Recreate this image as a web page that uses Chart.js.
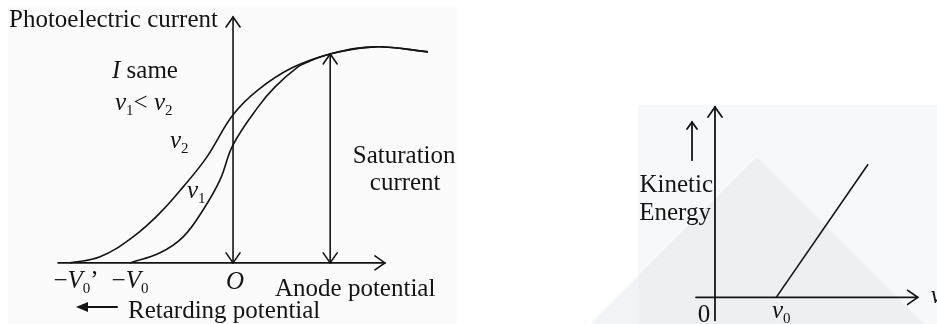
<!DOCTYPE html>
<html>
<head>
<meta charset="utf-8">
<title>Photoelectric effect</title>
<script src="https://cdn.jsdelivr.net/npm/chart.js@4.4.1/dist/chart.umd.min.js"></script>
<style>
  body { margin: 0; background: #fff; }
  .wrap { position: relative; width: 937px; height: 324px; overflow: hidden; }
  canvas { position: absolute; top: 0; }
  #currentChart { left: 0; }
  #energyChart { left: 470px; }
</style>
</head>
<body>
<div class="wrap">
  <canvas id="currentChart" width="470" height="324"></canvas>
  <canvas id="energyChart" width="467" height="324"></canvas>
</div>
<script>
// current vs anode potential, two frequencies at the same intensity
const v2Potential = [-5.0, -4.08, -3.07, -2.24, -1.53, -0.80, 0, 0.77, 1.81, 2.98, 4.36, 5.98];
const v2Current   = [0, 0.029, 0.124, 0.238, 0.362, 0.505, 0.705, 0.824, 0.929, 0.995, 1.029, 1.005];
const v1Potential = [-3.16, -2.24, -1.53, -0.92, -0.40, 0, 0.77, 1.29, 1.99, 2.30, 2.98, 4.36, 5.98];
const v1Current   = [0, 0.048, 0.124, 0.252, 0.395, 0.562, 0.743, 0.838, 0.933, 0.957, 0.995, 1.029, 1.005];

const stopV2 = -5.0;   // -V0'
const stopV1 = -3.16;  // -V0
const satPotential = 2.98;
const satCurrent = 0.995;

// kinetic energy vs frequency
const frequency = [2, 5];
const kineticEnergy = [0, 3];
const thresholdFreq = 2;

const INK = '#141414';
const SERIF = '"Liberation Serif", "Times New Roman", serif';

function toPoints(xs, ys) {
  return xs.map((x, i) => ({ x: x, y: ys[i] }));
}

function fontFor(p) {
  return (p.it ? 'italic ' : '') + (p.sub ? 15 : 25) + 'px ' + SERIF;
}

// draws a run of text pieces (italic / subscript) starting at x
function drawRich(ctx, x, y, parts, align) {
  let w = 0;
  parts.forEach(p => { ctx.font = fontFor(p); p.w = ctx.measureText(p.t).width; w += p.w; });
  let cx = align === 'center' ? x - w / 2 : (align === 'right' ? x - w : x);
  ctx.textAlign = 'left';
  ctx.textBaseline = 'alphabetic';
  ctx.fillStyle = INK;
  parts.forEach(p => {
    ctx.font = fontFor(p);
    ctx.fillText(p.t, cx, y + (p.sub ? 5 : 0));
    cx += p.w;
  });
}

function line(ctx, x1, y1, x2, y2) {
  ctx.beginPath();
  ctx.moveTo(x1, y1);
  ctx.lineTo(x2, y2);
  ctx.stroke();
}

// open chevron head with its tip at (x, y), pointing along (dx, dy)
function arrowHead(ctx, x, y, dx, dy, len, half) {
  const n = Math.hypot(dx, dy);
  const ux = dx / n, uy = dy / n;
  ctx.beginPath();
  ctx.moveTo(x - ux * len - uy * half, y - uy * len + ux * half);
  ctx.lineTo(x, y);
  ctx.lineTo(x - ux * len + uy * half, y - uy * len - ux * half);
  ctx.stroke();
}

const baseOptions = {
  responsive: false,
  animation: false,
  devicePixelRatio: 1,
  layout: { padding: 0 },
  plugins: { legend: { display: false }, tooltip: { enabled: false } },
  elements: { point: { radius: 0 } }
};

const currentAxes = {
  id: 'currentAxes',
  beforeDraw(chart) {
    const ctx = chart.ctx;
    ctx.save();
    ctx.fillStyle = '#fbfbfb';
    ctx.fillRect(8, 7, 449, 317);
    ctx.restore();
  },
  afterDraw(chart) {
    const ctx = chart.ctx;
    const xs = chart.scales.x, ys = chart.scales.y;
    const X = v => xs.getPixelForValue(v);
    const Y = v => ys.getPixelForValue(v);
    ctx.save();
    ctx.strokeStyle = INK;
    ctx.lineWidth = 1.6;
    ctx.lineCap = 'round';

    // potential axis
    line(ctx, X(-5.37), Y(0), X(4.66), Y(0));
    arrowHead(ctx, X(4.66), Y(0), 1, 0, 10, 7);
    // current axis, arrow both ways
    line(ctx, X(0), Y(0), X(0), Y(1.171));
    arrowHead(ctx, X(0), Y(1.171), 0, -1, 10, 7);
    arrowHead(ctx, X(0), Y(0), 0, 1, 10, 7);
    // saturation current marker
    line(ctx, X(satPotential), Y(0), X(satPotential), Y(satCurrent));
    arrowHead(ctx, X(satPotential), Y(satCurrent), 0, -1, 10, 7);
    arrowHead(ctx, X(satPotential), Y(0), 0, 1, 10, 7);

    // retarding direction arrow
    ctx.lineWidth = 2;
    line(ctx, 117, 307, 86, 307);
    ctx.fillStyle = INK;
    ctx.beginPath();
    ctx.moveTo(76, 307);
    ctx.lineTo(88, 302);
    ctx.lineTo(88, 312);
    ctx.closePath();
    ctx.fill();

    drawRich(ctx, 9, 27, [{ t: 'Photoelectric current' }]);
    drawRich(ctx, 112, 78, [{ t: 'I', it: true }, { t: ' same' }]);
    drawRich(ctx, 115, 110, [{ t: 'ν', it: true }, { t: '1', sub: true }, { t: '< ' }, { t: 'ν', it: true }, { t: '2', sub: true }]);
    drawRich(ctx, 170, 148, [{ t: 'ν', it: true }, { t: '2', sub: true }]);
    drawRich(ctx, 187, 198, [{ t: 'ν', it: true }, { t: '1', sub: true }]);
    drawRich(ctx, X(satPotential) + 74, 163, [{ t: 'Saturation' }], 'center');
    drawRich(ctx, X(satPotential) + 75, 190, [{ t: 'current' }], 'center');
    drawRich(ctx, X(stopV2) + 6, 288, [{ t: '−' }, { t: 'V', it: true }, { t: '0', sub: true }, { t: '’' }], 'center');
    drawRich(ctx, X(stopV1), 288, [{ t: '−' }, { t: 'V', it: true }, { t: '0', sub: true }], 'center');
    drawRich(ctx, X(0) + 2, 289, [{ t: 'O', it: true }], 'center');
    drawRich(ctx, 275, 296, [{ t: 'Anode potential' }]);
    drawRich(ctx, 128, 318, [{ t: 'Retarding potential' }]);
    ctx.restore();
  }
};

new Chart(document.getElementById('currentChart').getContext('2d'), {
  type: 'scatter',
  data: {
    datasets: [
      { label: 'ν2', data: toPoints(v2Potential, v2Current), showLine: true, borderColor: INK, borderWidth: 1.6, tension: 0.4 },
      { label: 'ν1', data: toPoints(v1Potential, v1Current), showLine: true, borderColor: INK, borderWidth: 1.6, tension: 0.4 }
    ]
  },
  options: Object.assign({}, baseOptions, {
    scales: {
      x: { type: 'linear', display: false, min: -7.15, max: 7.27 },
      y: { type: 'linear', display: false, min: -0.291, max: 1.252 }
    }
  }),
  plugins: [currentAxes]
});

const energyAxes = {
  id: 'energyAxes',
  beforeDraw(chart) {
    const ctx = chart.ctx;
    ctx.save();
    ctx.fillStyle = '#f7f8f9';
    ctx.fillRect(168, 105, 299, 219);
    // faint roof-shaped backdrop
    ctx.fillStyle = 'rgba(222,226,234,0.4)';
    ctx.beginPath();
    ctx.moveTo(287, 157);
    ctx.lineTo(454, 324);
    ctx.lineTo(120, 324);
    ctx.closePath();
    ctx.fill();
    ctx.restore();
  },
  afterDraw(chart) {
    const ctx = chart.ctx;
    const xs = chart.scales.x, ys = chart.scales.y;
    const X = v => xs.getPixelForValue(v);
    const Y = v => ys.getPixelForValue(v);
    ctx.save();
    ctx.strokeStyle = INK;
    ctx.lineWidth = 1.8;
    ctx.lineCap = 'round';

    line(ctx, X(-0.62), Y(0), X(6.62), Y(0));
    arrowHead(ctx, X(6.62), Y(0), 1, 0, 10, 7);
    line(ctx, X(0), Y(-0.52), X(0), Y(4.29));
    arrowHead(ctx, X(0), Y(4.29), 0, -1, 10, 7);
    // small upward arrow above the axis title
    line(ctx, X(-0.75), Y(3.09), X(-0.75), Y(3.95));
    arrowHead(ctx, X(-0.75), Y(3.95), 0, -1, 7, 5);

    drawRich(ctx, X(0) - 2, 192, [{ t: 'Kinetic' }], 'right');
    drawRich(ctx, X(0) - 4, 220, [{ t: 'Energy' }], 'right');
    drawRich(ctx, X(0) - 11, 322, [{ t: '0' }], 'center');
    drawRich(ctx, X(thresholdFreq) + 5, 318, [{ t: 'ν', it: true }, { t: '0', sub: true }], 'center');
    drawRich(ctx, X(6.62) + 13, 303, [{ t: 'ν', it: true }]);
    ctx.restore();
  }
};

new Chart(document.getElementById('energyChart').getContext('2d'), {
  type: 'scatter',
  data: {
    datasets: [
      { label: 'KE', data: toPoints(frequency, kineticEnergy), showLine: true, borderColor: INK, borderWidth: 1.6 }
    ]
  },
  options: Object.assign({}, baseOptions, {
    scales: {
      x: { type: 'linear', display: false, min: -8, max: 7.25 },
      y: { type: 'linear', display: false, min: -0.6, max: 6.7 }
    }
  }),
  plugins: [energyAxes]
});
</script>
</body>
</html>
